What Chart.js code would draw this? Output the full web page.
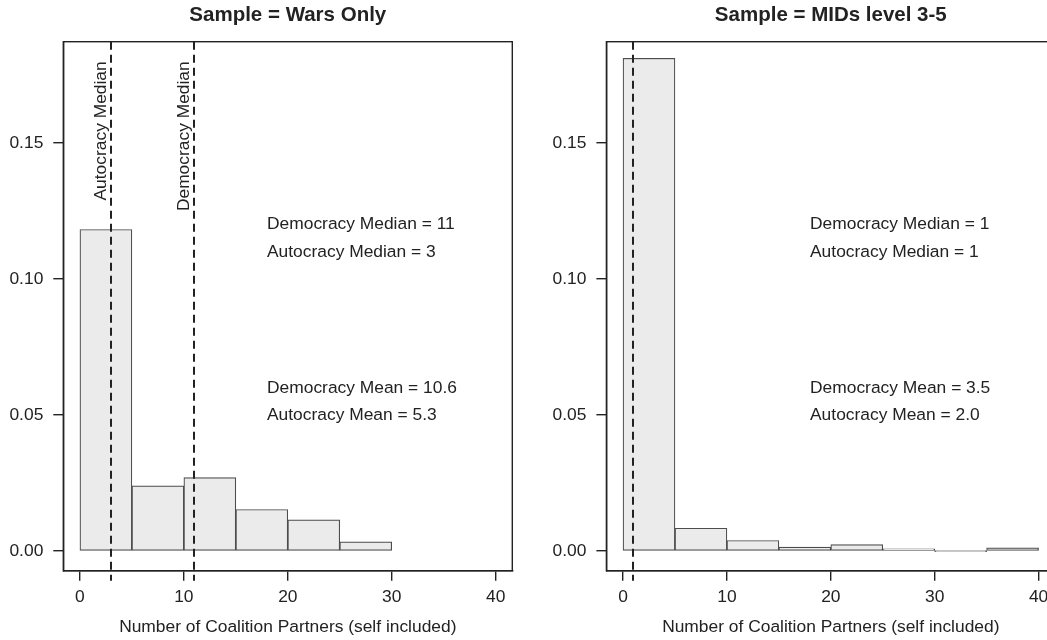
<!DOCTYPE html>
<html>
<head>
<meta charset="utf-8">
<script src="https://cdn.jsdelivr.net/npm/chart.js@4"></script>
<style>
  html, body { margin: 0; padding: 0; background: #fff; overflow: hidden; width: 1047px; height: 640px; }
  #p1 { position: absolute; left: 0; top: 0; width: 527px; height: 640px; }
  #p2 { position: absolute; left: 527px; top: 0; width: 545px; height: 640px; }
</style>
</head>
<body>
<div id="p1"><canvas id="c1"></canvas></div>
<div id="p2"><canvas id="c2"></canvas></div>
<script>
// ---- data ----
const binEdges = [0, 5, 10, 15, 20, 25, 30, 35, 40];
const warsDensity = [0.1182, 0.0240, 0.0270, 0.0153, 0.0115, 0.0034];
const midsDensity = [0.1811, 0.0084, 0.0039, 0.0015, 0.0024, 0.0008, 0.0000, 0.0012];
const warsMedians = [3, 11];            // autocracy, democracy
const warsMedianLabels = ["Autocracy Median", "Democracy Median"];
const midsMedians = [1];                 // both medians = 1
const midsMedianLabels = [];
const warsStats = ["Democracy Median = 11", "Autocracy Median = 3", "Democracy Mean = 10.6", "Autocracy Mean = 5.3"];
const midsStats = ["Democracy Median = 1", "Autocracy Median = 1", "Democracy Mean = 3.5", "Autocracy Mean = 2.0"];
const statsY = [0.12, 0.11, 0.06, 0.05];
const xTicks = [0, 10, 20, 30, 40];
const xTickLabels = ["0", "10", "20", "30", "40"];
const yTicks = [0, 0.05, 0.10, 0.15];
const yTickLabels = ["0.00", "0.05", "0.10", "0.15"];
const titles = ["Sample = Wars Only", "Sample = MIDs level 3-5"];
const xLabel = "Number of Coalition Partners (self included)";

const FONT = "'Liberation Sans', Arial, Helvetica, sans-serif";
const TXT = 17.4;
const INK = '#222';

function toPoints(dens) {
  return dens.map((d, i) => ({ x: (binEdges[i] + binEdges[i + 1]) / 2, y: d }));
}

const decor = {
  id: 'decor',
  afterDatasetsDraw(chart, args, opts) {
    const { ctx, chartArea: a, scales: { x, y } } = chart;
    ctx.save();
    // box
    ctx.strokeStyle = INK;
    ctx.lineWidth = 1.4;
    ctx.strokeRect(a.left, a.top, a.right - a.left, a.bottom - a.top);
    // dashed median lines
    ctx.setLineDash([8, 5]);
    ctx.lineWidth = 2;
    ctx.strokeStyle = INK;
    opts.medians.forEach(m => {
      const px = Math.round(x.getPixelForValue(m));
      ctx.beginPath();
      ctx.moveTo(px, a.top);
      ctx.lineTo(px, a.bottom + 10);
      ctx.stroke();
    });
    ctx.setLineDash([]);
    // rotated median labels
    ctx.fillStyle = INK;
    ctx.font = TXT + 'px ' + FONT;
    opts.medianLabels.forEach((lab, i) => {
      const px = x.getPixelForValue(opts.medians[i] - 1);
      const py = y.getPixelForValue(0.18);
      ctx.save();
      ctx.translate(px, py);
      ctx.rotate(-Math.PI / 2);
      ctx.textAlign = 'right';
      ctx.textBaseline = 'middle';
      ctx.fillText(lab, 0, 0);
      ctx.restore();
    });
    // stats text
    ctx.textAlign = 'left';
    ctx.textBaseline = 'middle';
    opts.stats.forEach((s, i) => {
      ctx.fillText(s, x.getPixelForValue(18), y.getPixelForValue(statsY[i]));
    });
    ctx.restore();
  }
};

function makeChart(id, dens, medians, medianLabels, stats, title, yAxisW, padRight) {
  return new Chart(document.getElementById(id), {
    type: 'bar',
    data: {
      datasets: [{
        data: toPoints(dens),
        backgroundColor: '#ebebeb',
        borderColor: '#4d4d4d',
        borderWidth: 1.2,
        borderSkipped: false,
        barPercentage: 1,
        categoryPercentage: 1,
        minBarLength: 1
      }]
    },
    options: {
      responsive: true,
      maintainAspectRatio: false,
      animation: false,
      events: [],
      layout: { padding: { left: 0, right: padRight, top: 0, bottom: 0 } },
      plugins: {
        legend: { display: false },
        tooltip: { enabled: false },
        title: {
          display: true,
          text: title,
          fullSize: false,
          color: INK,
          font: { family: FONT, size: 20.5, weight: 'bold', lineHeight: 1.2 },
          padding: { top: 2.7, bottom: 14.4 }
        },
        decor: { medians, medianLabels, stats }
      },
      scales: {
        x: {
          type: 'linear',
          min: -1.6,
          max: 41.6,
          offset: false,
          afterBuildTicks: s => { s.ticks = xTicks.map(v => ({ value: v })); },
          afterFit: s => { s.height = 69.3; },
          ticks: {
            autoSkip: false,
            maxRotation: 0,
            padding: 6.4,
            color: INK,
            font: { family: FONT, size: TXT, lineHeight: 1.2 },
            callback: (v, i) => xTickLabels[i]
          },
          grid: { display: true, drawOnChartArea: false, drawTicks: true, tickLength: 10, color: INK, lineWidth: 1.4, offset: false },
          border: { display: true, color: INK, width: 1.4 },
          title: {
            display: true, text: xLabel, color: INK,
            font: { family: FONT, size: TXT, lineHeight: 1.2 },
            padding: { top: 0, bottom: 2 }
          }
        },
        y: {
          type: 'linear',
          min: -0.0072,
          max: 0.1872,
          afterBuildTicks: s => { s.ticks = yTicks.map(v => ({ value: v })); },
          afterFit: s => { s.width = yAxisW; },
          ticks: {
            autoSkip: false,
            padding: 10,
            color: INK,
            font: { family: FONT, size: TXT, lineHeight: 1.2 },
            callback: (v, i) => yTickLabels[i]
          },
          grid: { display: true, drawOnChartArea: false, drawTicks: true, tickLength: 10, color: INK, lineWidth: 1.4 },
          border: { display: true, color: INK, width: 1.4 }
        }
      }
    },
    plugins: [decor]
  });
}

makeChart('c1', warsDensity, warsMedians, warsMedianLabels, warsStats, titles[0], 63.3, 14.7);
makeChart('c2', midsDensity, midsMedians, midsMedianLabels, midsStats, titles[1], 79.4, 545 - 528.2);
</script>
</body>
</html>
